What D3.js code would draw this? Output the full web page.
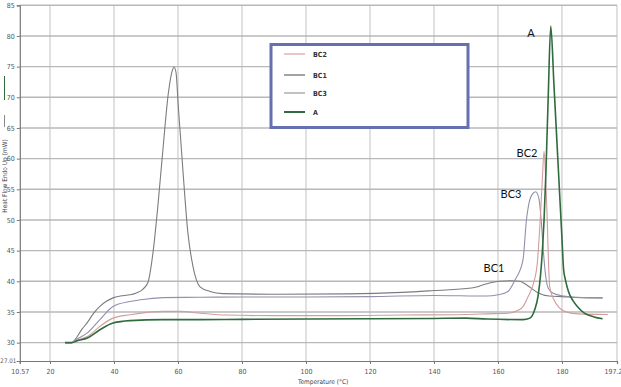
<!DOCTYPE html>
<html><head><meta charset="utf-8">
<script src="https://cdn.jsdelivr.net/npm/d3@7"></script>
<style>
body{margin:0;background:#fff;}
svg{display:block;}
.tick text{font-family:"DejaVu Sans Condensed","DejaVu Sans",sans-serif;font-stretch:condensed;}
</style></head>
<body><svg id="c" width="621" height="387"></svg>
<script>
// ---- data ----
const xTicks = [10.57, 20, 40, 60, 80, 100, 120, 140, 160, 180, 197.2];
const xTickLabels = ["10.57","20","40","60","80","100","120","140","160","180","197.2"];
const yTicks = [27.01, 30, 35, 40, 45, 50, 55, 60, 65, 70, 75, 80, 85];
const yTickLabels = ["27.01","30","35","40","45","50","55","60","65","70","75","80","85"];
const seriesNames = ["BC2","BC1","BC3","A"];

const bc1T = [24.7,26.8,28,30,31.7,33.5,35.6,37.5,39.7,42,45,47,49,50.6,52.2,53.7,55.3,57,58.2,58.8,59.4,60.1,61.6,63.1,64.7,66.9,70,74,90,113,130,140,151.7,156.5,160.4,164,166.8,169,172.6,176,180,186,192.7];
const bc1V = [30,30,30.6,32.2,33.3,34.7,35.9,36.7,37.3,37.6,37.8,38.1,38.7,39.8,44.7,52.2,61.5,70.7,74.3,74.9,74.0,68.5,57.7,47.9,42.4,39.1,38.35,38.0,37.9,37.95,38.2,38.5,38.9,39.6,40.0,40.1,40.0,39.4,38.1,37.6,37.5,37.35,37.3];

const bc3T = [24.7,26.8,28.5,31.7,35.6,39.7,45,50,55.3,67,80,100,120,140,156.5,160,163,165.3,167.8,168.9,169.6,170.6,171.8,172.8,173.5,174.2,175.0,175.8,177.5,179.5,184.8,192.7];
const bc3V = [30,30,30.6,31.6,33.75,35.9,36.7,37.1,37.35,37.4,37.45,37.45,37.5,37.7,37.6,37.8,38.3,40.2,43.4,50.0,52.5,54.1,54.6,53.5,50.0,44.8,40.5,38.8,38.0,37.7,37.4,37.3];

const bc2T = [24.7,26.8,28.5,31.7,35.6,39.7,45,55.3,60.6,67,75,90,110,130,150,156.5,163,166,168,169.4,171,172.3,173.2,173.9,174.4,174.9,175.4,175.8,176.2,177.5,179,180.8,185,194.4];
const bc2V = [30,30,30.4,31.0,32.65,34.0,34.55,35.1,35.1,34.8,34.5,34.4,34.4,34.5,34.6,34.7,34.8,35.2,36.0,37.5,39.5,43,50,57,61.2,57,50,43,39,37,35.8,35.1,34.7,34.6];

const aT = [24.7,26.8,28.5,31.7,35.6,39.7,45,55.3,67,80,100,120,140,150,156.5,167.8,170,171.5,172.5,173.3,174.0,174.4,175.0,175.7,176.5,177.5,178.5,179.5,180.0,180.5,181.1,182,183.5,184.8,187,190,192.7];
const aV = [30,30,30.3,30.75,32.1,33.2,33.6,33.75,33.75,33.8,33.85,33.9,33.95,34.0,33.85,33.75,34.0,35.4,37.5,41,46,50,58,70,81.6,72,62,52,47,42,40.2,38.4,36.8,35.9,34.8,34.2,33.9];

const peakLabels = ["A","BC2","BC3","BC1"];

// ---- layout ----
const svg = d3.select("#c");
const x = d3.scaleLinear().domain([10.57,197.2]).range([19.8,617]);
const y = d3.scaleLinear().domain([27.01,85]).range([361,5.3]);

// grid
const g = svg.append("g");
g.selectAll("line.vg").data(xTicks.slice(1)).enter().append("line")
  .attr("x1",d=>x(d)).attr("x2",d=>x(d)).attr("y1",y(85)).attr("y2",y(27.01))
  .attr("stroke","#d0d0d0").attr("stroke-width",1.3);
g.selectAll("line.hg").data(yTicks.slice(1)).enter().append("line")
  .attr("x1",x(10.57)).attr("x2",x(197.2)).attr("y1",d=>y(d)).attr("y2",d=>y(d))
  .attr("stroke","#b8b8b8").attr("stroke-width",1.4);

// axes
const yAxis = d3.axisLeft(y).tickValues(yTicks).tickFormat((d,i)=>yTickLabels[i]).tickSize(3).tickPadding(2);
const xAxis = d3.axisBottom(x).tickValues(xTicks).tickFormat((d,i)=>xTickLabels[i]).tickSize(3).tickPadding(5);
const ya = svg.append("g").attr("transform",`translate(${x(10.57)},0)`).call(yAxis);
const xa = svg.append("g").attr("transform",`translate(0,${y(27.01)})`).call(xAxis);
[ya,xa].forEach(a=>{
  a.select(".domain").attr("stroke","#777").attr("stroke-width",1.2);
  a.selectAll(".tick line").attr("stroke","#777");
  a.selectAll(".tick text").attr("fill","#555").style("font-size","7px");
});
xa.selectAll(".tick text").filter((d,i)=>i===xTicks.length-1).attr("text-anchor","end").attr("dx",5);
ya.selectAll(".tick text").filter((d,i)=>i===0).style("font-size","6.2px").attr("x",-3.5);

// series
const line = d3.line().x(d=>x(d[0])).y(d=>y(d[1])).curve(d3.curveMonotoneX);
const zip = (a,b)=>a.map((t,i)=>[t,b[i]]);
const series = [
  {name:"BC1", d:zip(bc1T,bc1V), c:"#7c7c80", w:1.1},
  {name:"BC3", d:zip(bc3T,bc3V), c:"#9290ad", w:1.1},
  {name:"BC2", d:zip(bc2T,bc2V), c:"#d49c9c", w:1.1},
  {name:"A",   d:zip(aT,aV),     c:"#2f6b3c", w:1.6}
];
svg.selectAll("path.s").data(series).enter().append("path")
  .attr("d",s=>line(s.d)).attr("fill","none").attr("stroke",s=>s.c).attr("stroke-width",s=>s.w);

// legend
const lg = svg.append("g");
lg.append("rect").attr("x",271).attr("y",44.5).attr("width",197).attr("height",83)
  .attr("fill","#fff").attr("stroke","#6670b0").attr("stroke-width",3);
const legColors = {"BC2":"#d8a0a0","BC1":"#666","BC3":"#999","A":"#2f6b3c"};
const legY = [54,75,93,112];
seriesNames.forEach((n,i)=>{
  lg.append("line").attr("x1",284).attr("x2",305).attr("y1",legY[i]).attr("y2",legY[i])
    .attr("stroke",legColors[n]).attr("stroke-width",n==="A"?2:1.2);
  lg.append("text").attr("x",313).attr("y",legY[i]+3).text(n)
    .attr("font-family","'DejaVu Sans Condensed','DejaVu Sans',sans-serif").style("font-stretch","condensed")
    .attr("font-weight","bold").attr("font-size","7px").attr("fill","#333");
});

// peak labels
const plPos = [[531,37],[527,157],[511,198],[494,272]];
peakLabels.forEach((t,i)=>{
  svg.append("text").attr("x",plPos[i][0]).attr("y",plPos[i][1]).attr("text-anchor","middle")
    .attr("font-family","Lato,'Open Sans',sans-serif").attr("font-size","11px").attr("fill","#111").text(t);
});

// axis titles
svg.append("text").attr("transform","translate(7,176) rotate(-90)").attr("text-anchor","middle")
  .attr("font-family","'DejaVu Sans Condensed','DejaVu Sans',sans-serif").style("font-stretch","condensed")
  .attr("font-size","6.5px").attr("fill","#444")
  .text("Heat Flow Endo Up (mW)");
svg.append("line").attr("x1",4.5).attr("x2",4.5).attr("y1",115).attr("y2",127).attr("stroke","#888").attr("stroke-width",1);
svg.append("line").attr("x1",4.5).attr("x2",4.5).attr("y1",76).attr("y2",100).attr("stroke","#2f6b3c").attr("stroke-width",1);
svg.append("text").attr("x",298).attr("y",384)
  .attr("font-family","'DejaVu Sans Condensed','DejaVu Sans',sans-serif").style("font-stretch","condensed")
  .attr("font-size","6.5px").attr("fill","#444")
  .text("Temperature (°C)");
</script></body></html>
